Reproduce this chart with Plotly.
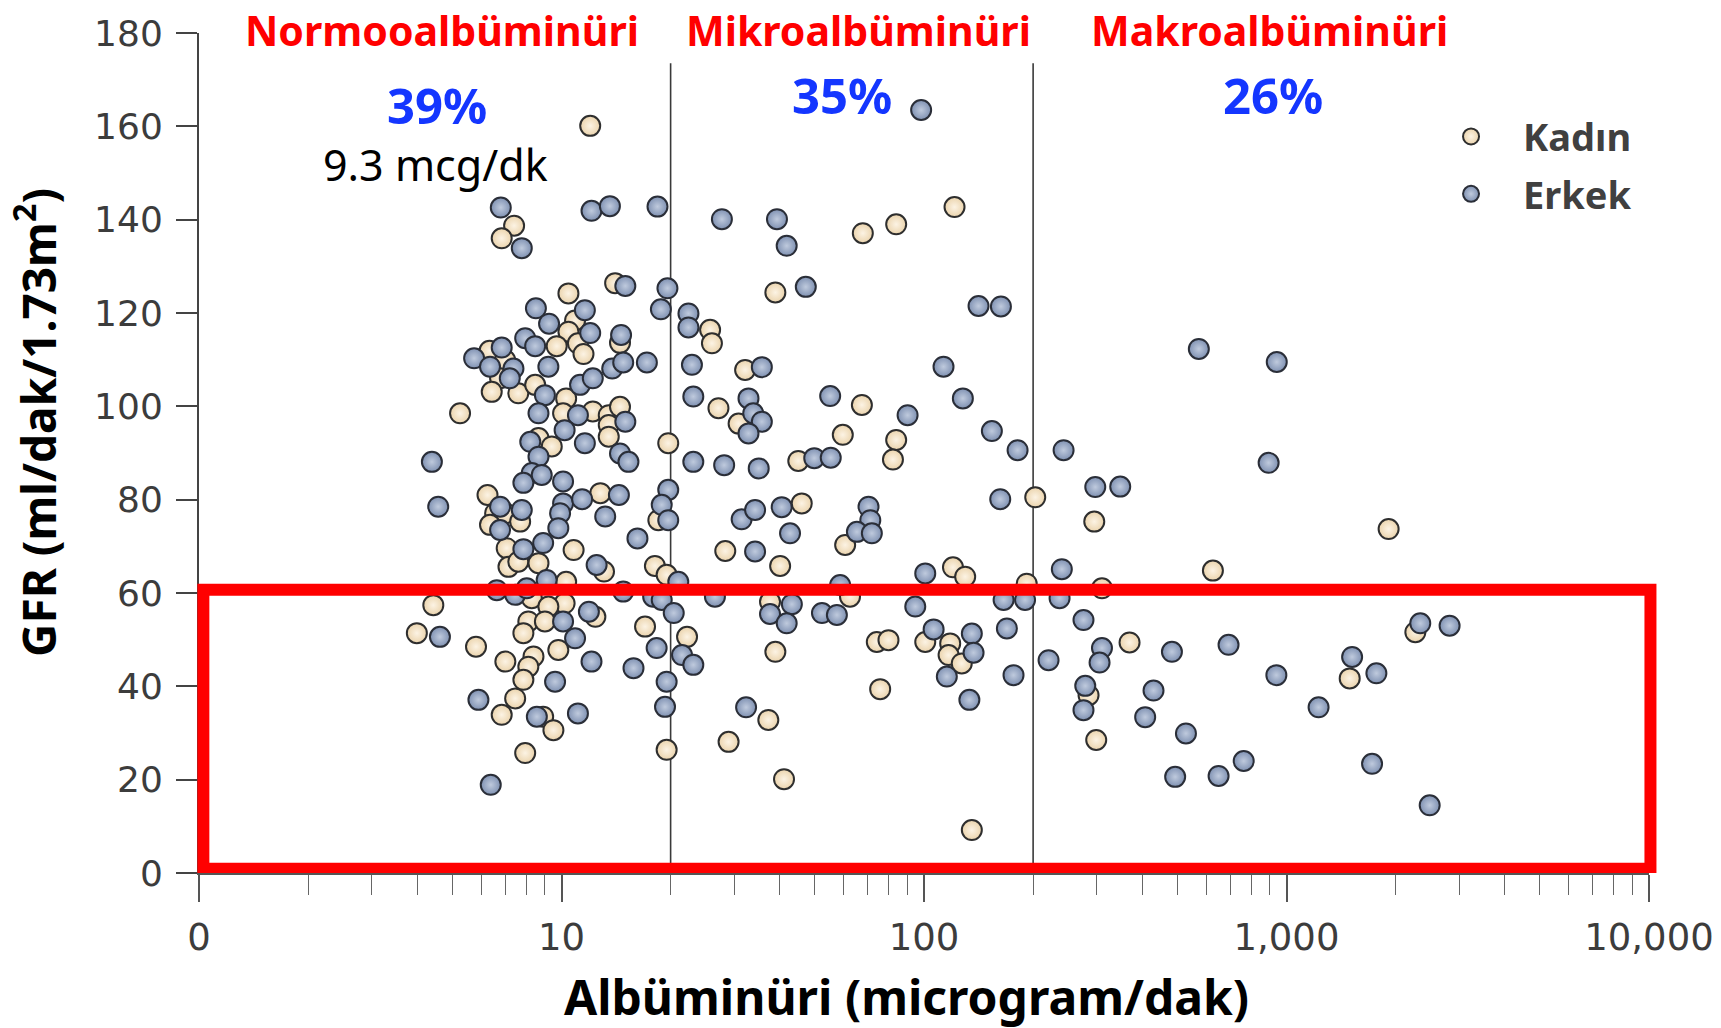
import plotly.graph_objects as go

# Albuminuria (microgram/min) and GFR (ml/min/1.73m2) per patient, split by sex
kadin_alb = [12.0, 7.4, 6.84, 14.06, 10.45, 10.9, 10.45, 9.7, 11.1, 11.5, 14.5, 6.33, 6.99, 6.77,
             6.42, 7.6, 8.46, 10.3, 10.1, 12.2, 13.5, 14.5, 13.5, 13.5, 5.25, 8.64, 9.4, 19.7,
             6.25, 6.56, 7.0, 7.69, 6.35, 12.8, 18.5, 7.06, 10.8, 7.14, 7.6, 8.64, 13.1, 18.1,
             19.5, 8.28, 10.3, 10.2, 9.2, 12.4, 4.43, 3.99, 8.1, 9.0, 7.85, 5.81, 9.8, 8.37,
             7.0, 8.1, 7.85, 7.45, 6.84, 8.9, 9.5, 7.94, 19.5, 17.0, 22.2,
             67.8, 83.8, 121.4, 38.9, 25.7, 26.0, 32.1, 27.1, 30.8, 67.4, 59.7, 83.8, 82.1, 45.0,
             202.7, 46.0, 60.6, 28.3, 40.1, 120.2, 129.9, 192, 37.6, 62.5, 38.9, 74.1, 79.8,
             100.8, 118.1, 116.9, 127.1, 75.7, 37.2, 28.9, 41.1, 135.5,
             294.9, 626.6, 309.7, 369, 284.4, 298.6, 1913, 2267, 1494]
kadin_gfr = [160.1, 138.7, 136.0, 126.4, 124.2, 118.4, 116.0, 112.9, 113.5, 111.2, 113.6, 111.9,
             109.9, 106.0, 103.1, 102.8, 104.6, 101.7, 98.5, 98.9, 98.1, 99.9, 96.0, 93.5, 98.5,
             93.2, 91.4, 92.1,
             81.0, 77.1, 77.1, 75.3, 74.6, 81.4, 75.6, 69.6, 69.2, 65.6, 66.7, 66.4, 64.6, 65.8,
             63.9, 58.9, 62.4, 57.8, 57.1, 54.9, 57.4, 51.4, 53.9, 53.9, 51.4, 48.5, 47.8, 46.4,
             45.3, 44.2, 41.4, 37.4, 33.9, 33.5, 30.6, 25.7, 26.4, 52.8, 50.6,
             137.1, 139.0, 142.7, 124.4, 116.4, 113.5, 107.8, 99.6, 96.3, 100.3, 93.9, 92.8,
             88.6, 88.3,
             80.5, 79.2, 70.3, 69.0, 65.8, 65.5, 63.5, 62.0, 58.1, 59.2, 47.4, 49.5, 49.9,
             49.5, 49.2, 46.7, 44.9, 39.4, 32.8, 28.1, 20.1, 9.2,
             75.3, 64.8, 61.0, 49.4, 38.1, 28.5, 73.7, 51.6, 41.7]

erkek_alb = [6.8, 7.77, 12.1, 13.6, 18.4, 15.0, 19.6, 18.8, 8.5, 11.6, 9.24, 12.0, 7.94, 8.46,
             14.6, 5.74, 6.84, 6.35, 7.37, 7.2, 9.2, 9.0, 11.25, 12.2, 13.8, 14.8, 17.2, 8.64,
             11.1, 15.0, 10.2, 11.6, 8.2, 8.64, 14.5, 15.3, 4.39, 23.1, 22.4, 22.4, 22.9, 23.1,
             8.28,
             4.57, 7.85, 8.82, 10.1, 6.77, 7.77, 6.77, 10.1, 9.91, 11.4, 14.4, 13.2, 9.8, 16.2,
             19.7, 18.9, 19.7, 8.9, 7.85, 12.5, 21.0, 6.63, 7.45, 8.02, 9.1, 11.9, 14.8, 17.9,
             18.9, 20.4, 4.62, 10.1, 10.9, 12.1, 15.8, 9.6, 5.9, 8.55, 11.1, 6.38, 19.5, 19.3,
             18.3, 21.5, 23.1,
             98.2, 27.7, 39.3, 41.8, 47.2, 141.4, 163, 35.7, 113.2, 32.8, 33.8, 35.7, 32.8,
             55.1, 90.1, 128, 153.9, 181.2, 28.1, 35.0, 49.8, 55.3,
             162.3, 31.4, 34.2, 40.5, 42.7, 70.3, 71.1, 65.3, 71.8, 34.2, 100.8, 58.7, 26.5,
             43.2, 37.6, 41.8, 52.3, 57.5, 94.6, 165.8, 190, 169.3, 176.6, 106.3, 135.5, 137,
             115.6, 133.4, 32.3,
             242.7, 892.7, 296.8, 347.8, 240, 236.6, 275.4, 309.7, 305, 483, 692, 220.6, 937.6,
             278.5, 275.4, 429.7, 407.5, 1226, 528, 493, 649.6, 762, 573, 940,
             2339, 2818, 1517, 1770, 1722, 2483]
erkek_gfr = [142.6, 133.9, 141.9, 142.9, 142.8, 125.8, 125.3, 120.8, 121.0, 120.6, 117.7, 115.7,
             114.6, 112.9, 115.3, 110.3, 112.6, 108.5, 108.1, 106.0, 108.5, 102.4, 104.6, 106.0,
             108.1, 109.4, 109.4, 98.5, 98.1, 96.7, 94.9, 92.1, 92.4, 89.2, 89.9, 88.1, 88.1,
             88.1, 119.9, 116.9, 108.9, 102.1, 85.7,
             78.5, 83.6, 85.3, 83.9, 78.5, 77.8, 73.5, 79.2, 77.1, 80.1, 81.0, 76.4, 73.9, 71.7,
             82.1, 78.9, 75.6, 70.7, 69.4, 66.0, 62.4, 60.6, 59.6, 61.0, 62.8, 56.0, 60.3, 59.2,
             58.5, 55.7, 50.6, 53.9, 50.3, 45.3, 43.9, 41.0, 37.1, 33.5, 34.2, 18.9, 41.0, 35.6,
             48.2, 46.7, 44.6,
             163.5, 140.1, 140.1, 134.4, 125.6, 121.5, 121.4, 108.4, 108.5, 101.7, 98.5, 96.7,
             94.2, 102.2, 98.1, 101.7, 94.7, 90.6, 87.4, 86.7, 88.9, 89.0,
             80.1, 75.8, 77.8, 78.4, 72.8, 78.5, 75.6, 73.1, 72.8, 68.9, 64.2, 61.7, 59.2,
             57.6, 55.5, 53.5, 55.7, 55.3, 57.1, 58.5, 58.5, 52.4, 42.4, 52.2, 51.3, 47.2,
             42.1, 37.1, 35.5,
             90.6, 87.9, 82.7, 82.8, 65.1, 58.9, 54.2, 48.2, 45.1, 47.4, 48.9, 45.6, 42.4,
             40.1, 34.9, 39.1, 33.4, 35.5, 29.9, 20.6, 20.8, 24.0, 112.3, 109.5,
             53.5, 53.0, 46.3, 42.8, 23.4, 14.5]

# Category cut-offs (microgram/min) and headline labels
cutoffs = [20, 200]
cutoff_top = 173.5
group_names = ["Normooalbüminüri", "Mikroalbüminüri", "Makroalbüminüri"]
group_shares = ["39%", "35%", "26%"]
median_label = "9.3 mcg/dk"

# Axis ticks
x_major = [1, 10, 100, 1000, 10000]
x_major_text = ["0", "10", "100", "1,000", "10,000"]
x_minor = [m * d for d in (1, 10, 100, 1000) for m in range(2, 10)]
y_ticks = list(range(0, 181, 20))

# Low-GFR box (GFR < 60)
box_gfr = [0.9, 60.7]

fig = go.Figure()

for xc in cutoffs:
    fig.add_trace(go.Scatter(x=[xc, xc], y=[0, cutoff_top], mode="lines",
                             line=dict(color="#3a3a3a", width=1.6),
                             showlegend=False, hoverinfo="skip"))

fig.add_trace(go.Scatter(
    x=kadin_alb, y=kadin_gfr, mode="markers", name="Kadın", legendgroup="k",
    marker=dict(size=20, color="#ebd4ad", line=dict(color="#2e2e2e", width=2),
                gradient=dict(type="radial", color="#fcf3e4"))))
fig.add_trace(go.Scatter(
    x=erkek_alb, y=erkek_gfr, mode="markers", name="Erkek", legendgroup="e",
    marker=dict(size=20, color="#7f91b2", line=dict(color="#2a2e38", width=2),
                gradient=dict(type="radial", color="#bfcadd"))))

# GFR < 60 box
fig.add_shape(type="rect", xref="paper", yref="y", x0=0.003, x1=1.001,
              y0=box_gfr[0], y1=box_gfr[1], line=dict(color="#ff0000", width=12),
              fillcolor="rgba(0,0,0,0)", layer="above")

head_font = dict(family="Noto Sans", size=41, color="#ff0000")
for name, xp in zip(group_names, [0.1676, 0.455, 0.738]):
    fig.add_annotation(text="<b>%s</b>" % name, xref="paper", yref="paper", x=xp, y=1.0393,
                       xanchor="center", yanchor="top", showarrow=False, font=head_font)

share_font = dict(family="Noto Sans", size=49, color="#1436ff")
for share, xp, yp in zip(group_shares, [0.1641, 0.4434, 0.7407], [0.914, 0.926, 0.926]):
    fig.add_annotation(text="<b>%s</b>" % share, xref="paper", yref="paper", x=xp, y=yp,
                       xanchor="center", yanchor="middle", showarrow=False, font=share_font)

fig.add_annotation(text=median_label, xref="paper", yref="paper", x=0.1634, y=0.8435,
                   xanchor="center", yanchor="middle", showarrow=False,
                   font=dict(family="Noto Sans", size=43, color="#000000"))

fig.add_annotation(text="<b>GFR (ml/dak/1.73m<sup>2</sup>)</b>", xref="paper", yref="paper",
                   x=-0.113, y=0.536, textangle=-90, xanchor="center", yanchor="middle",
                   showarrow=False, font=dict(family="Noto Sans", size=46, color="#000000"))
fig.add_annotation(text="<b>Albüminüri (microgram/dak)</b>", xref="paper", yref="paper",
                   x=0.488, y=-0.1476, xanchor="center", yanchor="middle", showarrow=False,
                   font=dict(family="Noto Sans", size=48, color="#000000"))

fig.update_xaxes(type="log", range=[0, 4], tickmode="array", tickvals=x_major,
                 ticktext=x_major_text, ticks="outside", ticklen=27, tickwidth=1.5,
                 tickcolor="#555555", showline=True, linecolor="#555555", linewidth=1.5,
                 showgrid=False, zeroline=False, ticklabelstandoff=4,
                 tickfont=dict(family="DejaVu Sans", size=37, color="#3c3c3c"),
                 minor=dict(tickmode="array", tickvals=x_minor, ticks="outside", ticklen=20,
                            tickwidth=1.3, tickcolor="#666666", showgrid=False),
                 automargin=False)
fig.update_yaxes(range=[0, 180], tickmode="array", tickvals=y_ticks, ticks="outside",
                 ticklen=21, tickwidth=2, tickcolor="#444444", showline=True,
                 linecolor="#444444", linewidth=2, showgrid=False, zeroline=False,
                 ticklabelstandoff=6,
                 tickfont=dict(family="DejaVu Sans", size=36, color="#3c3c3c"),
                 automargin=False)

fig.update_layout(
    width=1721, height=1028,
    margin=dict(l=199, r=72, t=33, b=155, pad=0),
    paper_bgcolor="white", plot_bgcolor="white",
    showlegend=True,
    legend=dict(x=0.8414, y=0.914, xanchor="left", yanchor="top", bgcolor="rgba(0,0,0,0)",
                font=dict(family="Noto Sans", size=38, color="#404040", weight="bold"),
                itemwidth=94, tracegroupgap=5, itemsizing="trace"),
)

fig.write_html("out.html")
